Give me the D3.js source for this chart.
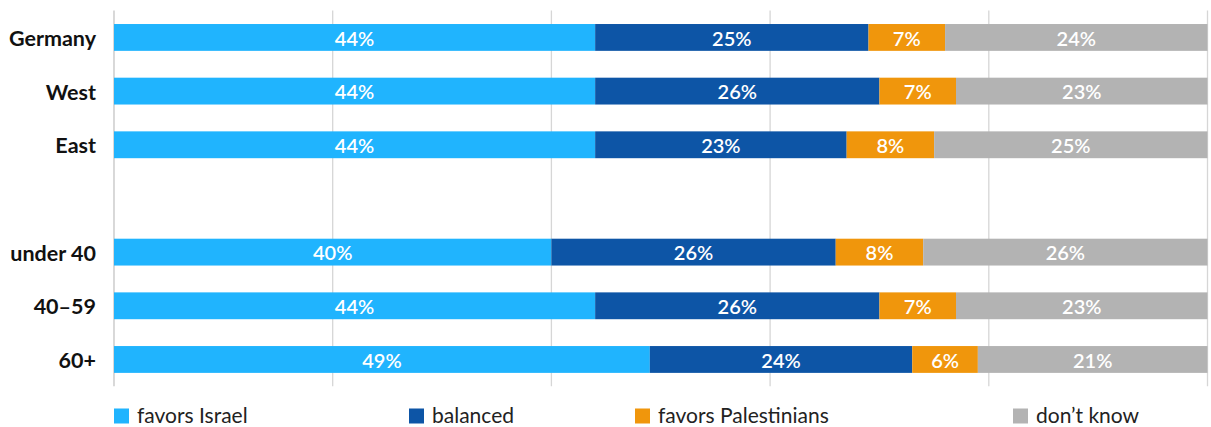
<!DOCTYPE html>
<html>
<head>
<meta charset="utf-8">
<script src="https://cdn.jsdelivr.net/npm/d3@7"></script>
<style>
  html, body { margin: 0; padding: 0; background: #fff; }
  svg { display: block; font-family: Lato, "Open Sans", sans-serif; }
</style>
</head>
<body>
<svg id="chart" width="1211" height="427"></svg>
<script>
// Row labels; the empty string is a spacer row between regions and age groups
const categories = ["Germany", "West", "East", "", "under 40", "40–59", "60+"];
const seriesNames = ["favors Israel", "balanced", "favors Palestinians", "don’t know"];
const favorsIsrael      = [44, 44, 44, null, 40, 44, 49];
const balanced          = [25, 26, 23, null, 26, 26, 24];
const favorsPalestinians = [7, 7, 8, null, 8, 7, 6];
const dontKnow          = [24, 23, 25, null, 26, 23, 21];
const xTicks = [0, 20, 40, 60, 80, 100];

const colors = ["#20b4fe", "#0d55a6", "#f0960c", "#b3b3b3"];
const seriesValues = [favorsIsrael, balanced, favorsPalestinians, dontKnow];

const svg = d3.select("#chart");

const x = d3.scaleLinear().domain([0, 100]).range([114, 1207.5]);
const y = d3.scaleBand().domain(categories.map((c, i) => i))
  .range([10.6, 386.3]).paddingInner(0.5).paddingOuter(0.25);

// vertical gridlines
svg.append("g").selectAll("line").data(xTicks).join("line")
  .attr("x1", d => x(d)).attr("x2", d => x(d))
  .attr("y1", y.range()[0]).attr("y2", y.range()[1])
  .attr("stroke", d => d === 0 ? "#c4c4c4" : "#d6d6d6")
  .attr("stroke-width", 1.3);

// build stacked rows
const rows = categories.map((c, i) => {
  const obj = { idx: i, label: c };
  seriesNames.forEach((s, k) => obj[s] = seriesValues[k][i]);
  return obj;
}).filter(r => r.label !== "");

const stack = d3.stack().keys(seriesNames);
const layers = stack(rows);

const gBars = svg.append("g");
layers.forEach((layer, k) => {
  const g = gBars.append("g");
  g.selectAll("rect").data(layer).join("rect")
    .attr("x", d => x(d[0]))
    .attr("width", d => x(d[1]) - x(d[0]))
    .attr("y", d => y(d.data.idx))
    .attr("height", y.bandwidth())
    .attr("fill", colors[k]);
  g.selectAll("text").data(layer).join("text")
    .attr("x", d => (x(d[0]) + x(d[1])) / 2)
    .attr("y", d => y(d.data.idx) + y.bandwidth() / 2)
    .attr("dy", "0.41em")
    .attr("text-anchor", "middle")
    .attr("fill", "#fff")
    .attr("font-size", 20)
    .attr("font-weight", 600)
    .text(d => (d[1] - d[0]) + "%");
});

// category labels
svg.append("g").selectAll("text").data(rows).join("text")
  .attr("x", 96)
  .attr("y", d => y(d.idx) + y.bandwidth() / 2)
  .attr("dy", "0.4em")
  .attr("text-anchor", "end")
  .attr("fill", "#111")
  .attr("font-size", 21.5)
  .attr("font-weight", 700)
  .text(d => d.label);

// legend
const legendX = [114, 409, 635, 1013];
const legend = svg.append("g").selectAll("g").data(seriesNames).join("g")
  .attr("transform", (d, i) => `translate(${legendX[i]},408.5)`);
legend.append("rect").attr("width", 15).attr("height", 15)
  .attr("fill", (d, i) => colors[i]);
legend.append("text").attr("x", 23).attr("y", 14.5)
  .attr("font-size", 21).attr("fill", "#222").text(d => d);
</script>
</body>
</html>
